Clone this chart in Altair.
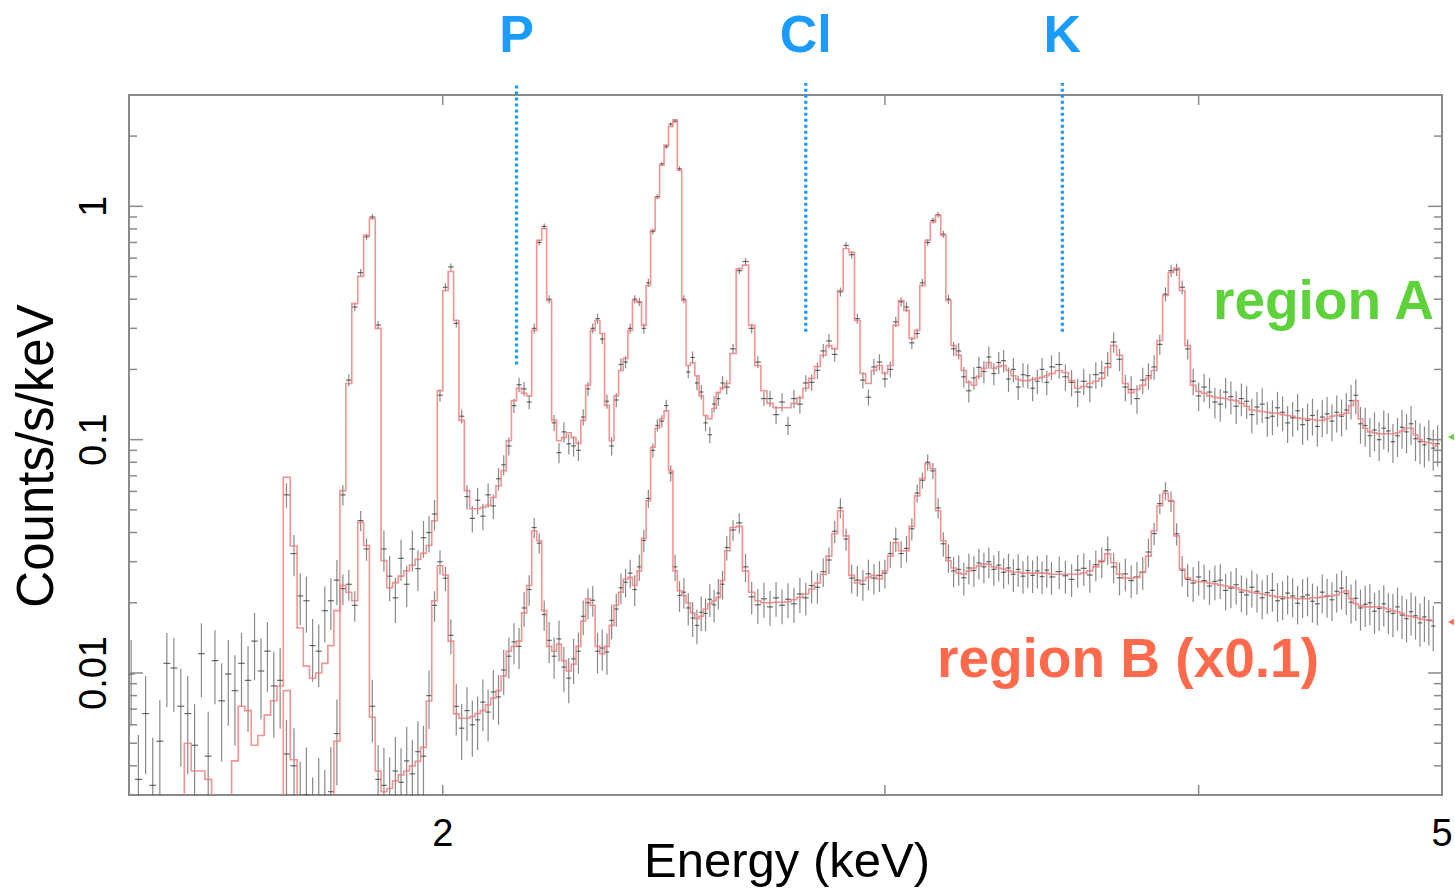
import altair as alt
import pandas as pd

# ---- spectral bins (keV, bin centres) ----
energy_kev = [
    1.503, 1.513, 1.523, 1.533, 1.543, 1.553, 1.563, 1.573, 1.583, 1.593,
    1.603, 1.613, 1.623, 1.633, 1.643, 1.653, 1.663, 1.673, 1.683, 1.693,
    1.703, 1.713, 1.723, 1.733,
    1.745, 1.755, 1.765, 1.775, 1.785, 1.795, 1.805, 1.815, 1.825, 1.835,
    1.845, 1.855, 1.865, 1.875, 1.885, 1.895, 1.905, 1.915, 1.925, 1.935,
    1.945, 1.955, 1.965, 1.975, 1.985, 1.995, 2.005, 2.015, 2.025, 2.035,
    2.045, 2.055, 2.065, 2.075, 2.085, 2.095, 2.105, 2.115, 2.125, 2.135,
    2.145, 2.155, 2.165, 2.175, 2.185, 2.195, 2.205, 2.215, 2.225, 2.235,
    2.245, 2.255, 2.265, 2.275, 2.285, 2.295, 2.305, 2.315, 2.325, 2.335,
    2.345, 2.355, 2.365, 2.375, 2.385, 2.395, 2.405, 2.415, 2.425, 2.435,
    2.445, 2.455, 2.465, 2.475, 2.485, 2.495, 2.505, 2.515, 2.525, 2.535,
    2.545, 2.555, 2.565, 2.575, 2.585, 2.595,
    2.610, 2.625, 2.640, 2.655, 2.670, 2.685, 2.700, 2.715, 2.730, 2.745,
    2.760, 2.775, 2.790, 2.805, 2.820, 2.835, 2.850, 2.865, 2.880, 2.895,
    2.910, 2.925, 2.940, 2.955, 2.970, 2.985, 3.000, 3.015, 3.030, 3.045,
    3.060, 3.075, 3.090, 3.105, 3.120, 3.135, 3.150, 3.165, 3.180, 3.195,
    3.210, 3.225, 3.240, 3.255, 3.270, 3.285, 3.300, 3.315, 3.330, 3.345,
    3.360, 3.375, 3.390, 3.405, 3.420, 3.435, 3.450, 3.465, 3.480, 3.495,
    3.52, 3.54, 3.56, 3.58, 3.60, 3.62, 3.64, 3.66, 3.68, 3.70,
    3.72, 3.74, 3.76, 3.78, 3.80, 3.82, 3.84, 3.86, 3.88, 3.90,
    3.92, 3.94, 3.96, 3.98, 4.00, 4.02, 4.04, 4.06, 4.08, 4.10,
    4.12, 4.14, 4.16, 4.18, 4.20, 4.22, 4.24, 4.26, 4.28, 4.30,
    4.32, 4.34, 4.36, 4.38, 4.40, 4.42, 4.44, 4.46, 4.48, 4.50,
    4.52, 4.54, 4.56, 4.58, 4.60, 4.62, 4.64, 4.66, 4.68, 4.70,
    4.72, 4.74, 4.76, 4.78, 4.80, 4.82, 4.84, 4.86, 4.88, 4.90,
    4.92, 4.94, 4.96, 4.98,
]

# ---- region A: folded model, observed rate, fractional 1-sigma error ----
a_model = [
    0.0022, 0.0023, 0.0024, 0.0025, 0.0025, 0.0026, 0.0027, 0.0029, 0.0050, 0.0038,
    0.0038, 0.0035, 0.0028, 0.0027, 0.0029, 0.0042, 0.0072, 0.0069, 0.0049, 0.0054,
    0.0066, 0.0076, 0.0088, 0.069,
    0.035, 0.0156, 0.0107, 0.0095, 0.0100, 0.0110, 0.0131, 0.0185, 0.0605, 0.174,
    0.383, 0.501, 0.751, 0.888, 0.30, 0.0303, 0.0232, 0.0244, 0.0260, 0.0274,
    0.0290, 0.0307, 0.0326, 0.0352, 0.0449, 0.162, 0.436, 0.526, 0.324, 0.121,
    0.0605, 0.0506, 0.0506, 0.0512, 0.0523, 0.0565, 0.0635, 0.0737, 0.099, 0.147,
    0.166, 0.158, 0.154, 0.294, 0.715, 0.804, 0.395, 0.121, 0.099, 0.102,
    0.107, 0.102, 0.0963, 0.121, 0.171, 0.294, 0.324, 0.285, 0.140, 0.099,
    0.154, 0.198, 0.223, 0.294, 0.395, 0.387, 0.309, 0.458, 0.789, 1.09,
    1.50, 1.83, 2.20, 2.35, 1.43, 0.395, 0.208, 0.214, 0.188, 0.154,
    0.127, 0.123, 0.136, 0.159, 0.167, 0.174,
    0.234, 0.54, 0.56, 0.309, 0.208, 0.162, 0.143, 0.137, 0.137, 0.137,
    0.143, 0.151, 0.166, 0.183, 0.206, 0.230, 0.253, 0.245, 0.436, 0.660,
    0.635, 0.324, 0.192, 0.174, 0.198, 0.208, 0.192, 0.208, 0.309, 0.395,
    0.358, 0.271, 0.294, 0.458, 0.715, 0.854, 0.915, 0.751, 0.395, 0.253,
    0.230, 0.198, 0.176, 0.171, 0.187, 0.202, 0.214, 0.202, 0.206, 0.208,
    0.198, 0.188, 0.181, 0.179, 0.179, 0.181, 0.183, 0.185, 0.188, 0.192,
    0.198, 0.194, 0.179, 0.166, 0.169, 0.174, 0.178, 0.183, 0.204, 0.253,
    0.230, 0.174, 0.159, 0.164, 0.171, 0.183, 0.198, 0.266, 0.415, 0.521,
    0.542, 0.436, 0.253, 0.171, 0.161, 0.158, 0.154, 0.152, 0.151, 0.150,
    0.148, 0.147, 0.143, 0.139, 0.134, 0.133, 0.132, 0.131, 0.130, 0.130,
    0.128, 0.127, 0.126, 0.124, 0.123, 0.123, 0.122, 0.121, 0.121, 0.123,
    0.126, 0.127, 0.128, 0.130, 0.140, 0.147, 0.123, 0.112, 0.108, 0.107,
    0.106, 0.106, 0.106, 0.106, 0.107, 0.109, 0.112, 0.112, 0.105, 0.100,
    0.098, 0.097, 0.0963, 0.0937,
]
a_rate = [
    0.0099, 0.0035, 0.0067, 0.0033, 0.0051, 0.0110, 0.0105, 0.0072, 0.0067, 0.0049,
    0.0121, 0.0044, 0.0113, 0.0076, 0.0099, 0.0084, 0.0110, 0.0093, 0.0137, 0.0102,
    0.0124, 0.0088, 0.0093, 0.058,
    0.0325, 0.0214, 0.0204, 0.0131, 0.0124, 0.0185, 0.0204, 0.025, 0.058, 0.180,
    0.37, 0.52, 0.74, 0.90, 0.31, 0.034, 0.026, 0.021, 0.031, 0.024,
    0.034, 0.028, 0.038, 0.040, 0.048, 0.155, 0.45, 0.55, 0.315, 0.126,
    0.057, 0.046, 0.055, 0.047, 0.058, 0.052, 0.068, 0.078, 0.094, 0.140,
    0.172, 0.165, 0.145, 0.30, 0.70, 0.82, 0.40, 0.118, 0.088, 0.108,
    0.096, 0.094, 0.090, 0.125, 0.165, 0.30, 0.33, 0.27, 0.146, 0.094,
    0.148, 0.21, 0.215, 0.30, 0.40, 0.39, 0.30, 0.47, 0.78, 1.10,
    1.52, 1.80, 2.25, 2.32, 1.45, 0.40, 0.195, 0.225, 0.175, 0.160,
    0.118, 0.105, 0.142, 0.150, 0.175, 0.168,
    0.245, 0.53, 0.58, 0.30, 0.215, 0.150, 0.150, 0.128, 0.145, 0.115,
    0.150, 0.142, 0.175, 0.176, 0.198, 0.240, 0.265, 0.232, 0.43, 0.68,
    0.62, 0.33, 0.180, 0.152, 0.205, 0.215, 0.182, 0.200, 0.32, 0.39,
    0.37, 0.26, 0.285, 0.47, 0.70, 0.87, 0.92, 0.76, 0.40, 0.245,
    0.240, 0.186, 0.162, 0.184, 0.204, 0.196, 0.226, 0.192, 0.214, 0.218,
    0.182, 0.200, 0.168, 0.190, 0.188, 0.166, 0.178, 0.200, 0.176, 0.205,
    0.210, 0.186, 0.176, 0.160, 0.178, 0.168, 0.190, 0.193, 0.212, 0.262,
    0.221, 0.168, 0.164, 0.150, 0.180, 0.188, 0.205, 0.256, 0.42, 0.53,
    0.535, 0.45, 0.245, 0.178, 0.154, 0.168, 0.160, 0.145, 0.142, 0.160,
    0.153, 0.139, 0.150, 0.146, 0.128, 0.138, 0.142, 0.124, 0.126, 0.137,
    0.131, 0.118, 0.124, 0.133, 0.116, 0.121, 0.127, 0.114, 0.125, 0.129,
    0.120, 0.131, 0.126, 0.134, 0.147, 0.155, 0.117, 0.115, 0.104, 0.110,
    0.100, 0.112, 0.109, 0.098, 0.104, 0.113, 0.108, 0.117, 0.101, 0.098,
    0.095, 0.101, 0.092, 0.096,
]
a_frac_err = [
    0.40, 0.55, 0.45, 0.60, 0.50, 0.35, 0.35, 0.45, 0.45, 0.50,
    0.35, 0.55, 0.35, 0.45, 0.40, 0.42, 0.35, 0.40, 0.32, 0.38,
    0.33, 0.40, 0.38, 0.12,
    0.20, 0.25, 0.27, 0.30, 0.30, 0.27, 0.25, 0.22, 0.10, 0.06,
    0.04, 0.035, 0.03, 0.03, 0.04, 0.20, 0.22, 0.22, 0.20, 0.20,
    0.20, 0.20, 0.18, 0.18, 0.15, 0.06, 0.04, 0.035, 0.04, 0.07,
    0.12, 0.13, 0.13, 0.13, 0.12, 0.12, 0.11, 0.10, 0.09, 0.07,
    0.07, 0.07, 0.07, 0.05, 0.03, 0.03, 0.04, 0.08, 0.10, 0.10,
    0.10, 0.10, 0.10, 0.08, 0.07, 0.05, 0.05, 0.05, 0.07, 0.09,
    0.07, 0.06, 0.06, 0.05, 0.04, 0.04, 0.05, 0.04, 0.03, 0.025,
    0.02, 0.02, 0.02, 0.02, 0.025, 0.04, 0.06, 0.06, 0.07, 0.07,
    0.08, 0.08, 0.08, 0.07, 0.07, 0.07,
    0.05, 0.035, 0.035, 0.05, 0.06, 0.07, 0.08, 0.09, 0.09, 0.09,
    0.09, 0.09, 0.08, 0.08, 0.08, 0.07, 0.07, 0.07, 0.045, 0.035,
    0.035, 0.05, 0.08, 0.08, 0.08, 0.08, 0.08, 0.08, 0.05, 0.045,
    0.05, 0.06, 0.05, 0.04, 0.035, 0.03, 0.03, 0.035, 0.045, 0.07,
    0.08, 0.10, 0.11, 0.11, 0.11, 0.11, 0.11, 0.11, 0.11, 0.11,
    0.12, 0.12, 0.12, 0.12, 0.12, 0.12, 0.12, 0.12, 0.12, 0.12,
    0.13, 0.13, 0.13, 0.14, 0.13, 0.14, 0.13, 0.13, 0.12, 0.10,
    0.11, 0.13, 0.14, 0.14, 0.13, 0.13, 0.12, 0.10, 0.07, 0.06,
    0.06, 0.07, 0.10, 0.13, 0.14, 0.14, 0.15, 0.15, 0.16, 0.15,
    0.16, 0.16, 0.16, 0.16, 0.17, 0.16, 0.17, 0.17, 0.17, 0.17,
    0.17, 0.18, 0.17, 0.18, 0.18, 0.18, 0.18, 0.18, 0.18, 0.18,
    0.18, 0.18, 0.18, 0.18, 0.17, 0.17, 0.18, 0.19, 0.19, 0.19,
    0.19, 0.19, 0.19, 0.19, 0.19, 0.19, 0.19, 0.19, 0.20, 0.20,
    0.20, 0.20, 0.20, 0.20,
]

# ---- region B (already scaled by 0.1), starting at the 1.723 keV bin ----
b_first = 22
b_model = [
    0.0012, 0.0084,
    0.00425, 0.0029, 0.0025, 0.0023, 0.0022, 0.0023, 0.0026, 0.0051, 0.0237, 0.0222,
    0.0204, 0.0442, 0.0352, 0.00646, 0.0038, 0.0031, 0.0032, 0.00345, 0.00366, 0.0038,
    0.0040, 0.00418, 0.0048, 0.00759, 0.0204, 0.0288, 0.0263, 0.0137, 0.00668, 0.0064,
    0.0064, 0.0065, 0.0067, 0.0069, 0.0073, 0.0078, 0.0084, 0.0097, 0.0124, 0.0130,
    0.0137, 0.0181, 0.0237, 0.0407, 0.0369, 0.0185, 0.0130, 0.0124, 0.0133, 0.0113,
    0.0102, 0.0109, 0.0130, 0.0167, 0.0208, 0.0195, 0.0130, 0.0121, 0.0130, 0.0160,
    0.0195, 0.0222, 0.0253, 0.0257, 0.0237, 0.0274, 0.0378, 0.0548, 0.0928, 0.112,
    0.123, 0.133, 0.0737, 0.0274, 0.0225, 0.0215, 0.0200, 0.0181, 0.0171, 0.0175,
    0.0188, 0.0198, 0.0204, 0.0211, 0.0249, 0.0334,
    0.0420, 0.0425, 0.0274, 0.0222, 0.0204, 0.0200, 0.0200, 0.0201, 0.0201, 0.0202,
    0.0206, 0.0211, 0.0218, 0.0229, 0.0243, 0.0265, 0.0317, 0.0395, 0.0496, 0.0387,
    0.0262, 0.0243, 0.0249, 0.0257, 0.0262, 0.0253, 0.0274, 0.0317, 0.0362, 0.0334,
    0.0334, 0.0425, 0.0574, 0.0681, 0.0789, 0.0750, 0.0496, 0.0369, 0.0303, 0.0282,
    0.0268, 0.0265, 0.0274, 0.0282, 0.0288, 0.0294, 0.0292, 0.0285, 0.0282, 0.0279,
    0.0274, 0.0271, 0.0271, 0.0268, 0.0268, 0.0268, 0.0268, 0.0268, 0.0268, 0.0265,
    0.0265, 0.0265, 0.0265, 0.0265, 0.0268, 0.0274, 0.0285, 0.0303, 0.0324, 0.0297,
    0.0265, 0.0255, 0.0255, 0.0257, 0.0271, 0.0317, 0.0407, 0.0521, 0.0589, 0.0548,
    0.0387, 0.0279, 0.0255, 0.0249, 0.0246, 0.0246, 0.0243, 0.0241, 0.0238, 0.0236,
    0.0234, 0.0232, 0.0227, 0.0225, 0.0222, 0.0220, 0.0218, 0.0216, 0.0214, 0.0212,
    0.0212, 0.0210, 0.0210, 0.0208, 0.0208, 0.0208, 0.0210, 0.0210, 0.0212, 0.0214,
    0.0214, 0.0216, 0.0222, 0.0225, 0.0208, 0.0198, 0.0194, 0.0192, 0.0192, 0.0192,
    0.0192, 0.0190, 0.0188, 0.0185, 0.0183, 0.0180, 0.0176, 0.0175, 0.0173, 0.0171,
    0.0169, 0.0169, 0.0167,
]
b_rate = [
    0.0015, 0.0045,
    0.0040, 0.0026, 0.0030, 0.0021, 0.0027, 0.0024, 0.0031, 0.0055, 0.0230, 0.0240,
    0.0195, 0.0450, 0.0340, 0.0072, 0.0035, 0.0033, 0.0029, 0.0038, 0.0034, 0.0042,
    0.0037, 0.0046, 0.0044, 0.0080, 0.0195, 0.0300, 0.0255, 0.0145, 0.0072, 0.0058,
    0.0069, 0.0060, 0.0063, 0.0075, 0.0068, 0.0083, 0.0079, 0.0103, 0.0118, 0.0136,
    0.0130, 0.0190, 0.0228, 0.0420, 0.0360, 0.0178, 0.0138, 0.0118, 0.0140, 0.0106,
    0.0095, 0.0115, 0.0124, 0.0175, 0.0200, 0.0205, 0.0124, 0.0128, 0.0123, 0.0168,
    0.0188, 0.0232, 0.0245, 0.0268, 0.0228, 0.0285, 0.0370, 0.0560, 0.090, 0.115,
    0.120, 0.140, 0.072, 0.0285, 0.0215, 0.0222, 0.0190, 0.0172, 0.0160, 0.0182,
    0.0180, 0.0207, 0.0196, 0.0220, 0.0240, 0.0345,
    0.0410, 0.0440, 0.0285, 0.0212, 0.0196, 0.0208, 0.0192, 0.0210, 0.0195, 0.0207,
    0.0198, 0.0218, 0.0210, 0.0237, 0.0233, 0.0272, 0.0305, 0.0405, 0.0510, 0.0375,
    0.0255, 0.0250, 0.0240, 0.0266, 0.0255, 0.0262, 0.0268, 0.0325, 0.0375, 0.0325,
    0.0342, 0.0415, 0.0590, 0.0670, 0.0800, 0.0735, 0.0510, 0.0358, 0.0312, 0.0274,
    0.0278, 0.0256, 0.0282, 0.0275, 0.0296, 0.0285, 0.0300, 0.0278, 0.0290, 0.0270,
    0.0282, 0.0265, 0.0278, 0.0260, 0.0275, 0.0262, 0.0274, 0.0259, 0.0276, 0.0258,
    0.0272, 0.0261, 0.0252, 0.0276, 0.0281, 0.0263, 0.0291, 0.0300, 0.0337, 0.0285,
    0.0256, 0.0266, 0.0249, 0.0258, 0.0270, 0.0330, 0.0396, 0.0532, 0.0603, 0.0545,
    0.0395, 0.0276, 0.0252, 0.0243, 0.0258, 0.0249, 0.0236, 0.0247, 0.0250, 0.0226,
    0.0231, 0.0239, 0.0222, 0.0216, 0.0233, 0.0224, 0.0210, 0.0221, 0.0226, 0.0204,
    0.0208, 0.0220, 0.0214, 0.0199, 0.0212, 0.0216, 0.0203, 0.0198, 0.0222, 0.0213,
    0.0206, 0.0224, 0.0231, 0.0219, 0.0201, 0.0209, 0.0190, 0.0197, 0.0200, 0.0184,
    0.0189, 0.0198, 0.0183, 0.0180, 0.0192, 0.0177, 0.0171, 0.0183, 0.0176, 0.0164,
    0.0174, 0.0168, 0.0159,
]
b_frac_err = [
    0.50, 0.40,
    0.45, 0.60, 0.60, 0.70, 0.60, 0.60, 0.55, 0.40, 0.15, 0.15,
    0.15, 0.10, 0.11, 0.30, 0.40, 0.45, 0.50, 0.40, 0.40, 0.40,
    0.40, 0.35, 0.35, 0.28, 0.15, 0.12, 0.12, 0.17, 0.25, 0.27,
    0.26, 0.27, 0.26, 0.25, 0.25, 0.24, 0.24, 0.22, 0.20, 0.20,
    0.20, 0.17, 0.15, 0.10, 0.10, 0.15, 0.20, 0.20, 0.20, 0.22,
    0.22, 0.22, 0.20, 0.17, 0.15, 0.15, 0.20, 0.20, 0.20, 0.17,
    0.16, 0.15, 0.14, 0.14, 0.15, 0.13, 0.11, 0.09, 0.07, 0.06,
    0.06, 0.06, 0.08, 0.13, 0.15, 0.15, 0.16, 0.17, 0.17, 0.17,
    0.16, 0.16, 0.16, 0.15, 0.14, 0.12,
    0.10, 0.10, 0.14, 0.16, 0.17, 0.17, 0.17, 0.17, 0.17, 0.17,
    0.17, 0.17, 0.16, 0.16, 0.15, 0.14, 0.13, 0.11, 0.10, 0.11,
    0.14, 0.15, 0.15, 0.15, 0.15, 0.15, 0.14, 0.13, 0.12, 0.13,
    0.13, 0.11, 0.09, 0.08, 0.08, 0.08, 0.10, 0.12, 0.14, 0.15,
    0.15, 0.16, 0.15, 0.15, 0.15, 0.15, 0.15, 0.15, 0.15, 0.15,
    0.15, 0.16, 0.16, 0.16, 0.16, 0.16, 0.16, 0.16, 0.16, 0.16,
    0.16, 0.16, 0.16, 0.16, 0.16, 0.16, 0.15, 0.15, 0.14, 0.15,
    0.16, 0.16, 0.16, 0.16, 0.16, 0.14, 0.11, 0.10, 0.09, 0.10,
    0.11, 0.15, 0.16, 0.17, 0.17, 0.17, 0.17, 0.17, 0.17, 0.18,
    0.18, 0.18, 0.18, 0.18, 0.18, 0.19, 0.19, 0.19, 0.19, 0.19,
    0.19, 0.19, 0.19, 0.19, 0.19, 0.19, 0.19, 0.19, 0.19, 0.19,
    0.19, 0.19, 0.19, 0.19, 0.19, 0.20, 0.20, 0.20, 0.20, 0.20,
    0.20, 0.20, 0.20, 0.21, 0.21, 0.21, 0.21, 0.21, 0.21, 0.21,
    0.22, 0.22, 0.22,
]

# ---- line identifications ----
line_names = ["P", "Cl", "K"]
line_kev = [2.14, 2.79, 3.53]
line_floor = [0.21, 0.29, 0.29]

# ---- axis ticks ----
y_major = [0.01, 0.1, 1]
y_major_text = ["0.01", "0.1", "1"]
y_minor = [0.004, 0.005, 0.006, 0.007, 0.008, 0.009,
           0.02, 0.03, 0.04, 0.05, 0.06, 0.07, 0.08, 0.09,
           0.2, 0.3, 0.4, 0.5, 0.6, 0.7, 0.8, 0.9, 2, 3]
x_tick_vals = [2, 3, 4]
x_label_vals = [2, 5]

W, H = 1313, 700
FONT = "Liberation Sans"
BLUE = "#1a9cff"
GREEN = "#5ed23a"
ORANGE = "#ff6a4d"
RED_MODEL = "#f07878"

xs = alt.Scale(type="log", domain=[1.5, 5.0], nice=False)
ys = alt.Scale(type="log", domain=[0.003, 3.0], nice=False)


def edges(e):
    lo, hi = [], []
    n = len(e)
    for i, c in enumerate(e):
        left = (e[i - 1] + c) / 2 if i > 0 else c - (e[1] - e[0]) / 2
        right = (c + e[i + 1]) / 2 if i < n - 1 else c + (c - e[i - 1]) / 2
        lo.append(left)
        hi.append(right)
    return lo, hi


def spectrum_frames(name, e, rate, ferr, model):
    lo, hi = edges(e)
    d = pd.DataFrame({
        "spectrum": name, "e": e, "e_lo": lo, "e_hi": hi, "rate": rate,
        "rate_lo": [r * (1 - f) for r, f in zip(rate, ferr)],
        "rate_hi": [r * (1 + f) for r, f in zip(rate, ferr)],
    })
    m = pd.DataFrame({"spectrum": name, "e": e, "model": model})
    return d, m


n_a = min(len(energy_kev), len(a_model), len(a_rate), len(a_frac_err))
e_b = energy_kev[b_first:]
n_b = min(len(e_b), len(b_model), len(b_rate), len(b_frac_err))
print("A bins", len(energy_kev), len(a_model), len(a_rate), len(a_frac_err))
print("B bins", len(e_b), len(b_model), len(b_rate), len(b_frac_err))

da, ma = spectrum_frames("A", energy_kev[:n_a], a_rate[:n_a], a_frac_err[:n_a], a_model[:n_a])
db, mb = spectrum_frames("B", e_b[:n_b], b_rate[:n_b], b_frac_err[:n_b], b_model[:n_b])
data_df = pd.concat([da, db], ignore_index=True)
model_df = pd.concat([ma, mb], ignore_index=True)

GRAY = "#3a3a3a"

err_v = alt.Chart(data_df).mark_rule(clip=True, color=GRAY, strokeWidth=1.2, opacity=0.6).encode(
    x=alt.X("e:Q", scale=xs, axis=None),
    y=alt.Y("rate_lo:Q", scale=ys, axis=None),
    y2="rate_hi:Q",
)
err_h = alt.Chart(data_df).mark_rule(clip=True, color=GRAY, strokeWidth=1.2, opacity=0.75).encode(
    x=alt.X("e_lo:Q", scale=xs, axis=None),
    x2="e_hi:Q",
    y=alt.Y("rate:Q", scale=ys, axis=None),
)
model_line = alt.Chart(model_df).mark_line(
    clip=True, interpolate="step", color=RED_MODEL, strokeWidth=1.6, opacity=0.8
).encode(
    x=alt.X("e:Q", scale=xs, axis=None),
    y=alt.Y("model:Q", scale=ys, axis=None),
    detail="spectrum:N",
)

# frame ticks (drawn inside the frame on all four sides)
ymaj_df = pd.DataFrame({"v": y_major, "t": y_major_text})
ymin_df = pd.DataFrame({"v": y_minor})
xt_df = pd.DataFrame({"v": x_tick_vals})
TICK = "#8a8a8a"


def ytick(df, x0, x1):
    return alt.Chart(df).mark_rule(color=TICK, strokeWidth=1.5).encode(
        y=alt.Y("v:Q", scale=ys, axis=None), x=alt.value(x0), x2=alt.value(x1))


def xtick(df, y0, y1):
    return alt.Chart(df).mark_rule(color=TICK, strokeWidth=1.5).encode(
        x=alt.X("v:Q", scale=xs, axis=None), y=alt.value(y0), y2=alt.value(y1))


ticks = [
    ytick(ymaj_df, 0, 14), ytick(ymaj_df, W - 14, W),
    ytick(ymin_df, 0, 8), ytick(ymin_df, W - 8, W),
    xtick(xt_df, H - 10, H), xtick(xt_df, 0, 10),
]

y_labels = alt.Chart(ymaj_df).mark_text(
    font=FONT, fontSize=38, angle=270, align="center", baseline="middle", color="black"
).encode(y=alt.Y("v:Q", scale=ys, axis=None), x=alt.value(-34), text="t:N")

x_labels = alt.Chart(pd.DataFrame({"v": x_label_vals, "t": [str(v) for v in x_label_vals]})).mark_text(
    font=FONT, fontSize=38, align="center", baseline="middle", color="black"
).encode(x=alt.X("v:Q", scale=xs, axis=None), y=alt.value(740), text="t:N")

y_title = alt.Chart(pd.DataFrame({"t": ["Counts/s/keV"]})).mark_text(
    font=FONT, fontSize=51, angle=270, align="center", baseline="middle", color="black"
).encode(x=alt.value(-91), y=alt.value(361), text="t:N")

x_title = alt.Chart(pd.DataFrame({"t": ["Energy (keV)"]})).mark_text(
    font=FONT, fontSize=49, align="center", baseline="middle", color="black"
).encode(x=alt.value(658), y=alt.value(767), text="t:N")

lines_df = pd.DataFrame({"name": line_names, "e": line_kev, "floor": line_floor})
line_marks = alt.Chart(lines_df).mark_rule(
    color=BLUE, strokeWidth=3.2, strokeDash=[3, 3], clip=False
).encode(
    x=alt.X("e:Q", scale=xs, axis=None),
    y=alt.Y("floor:Q", scale=ys, axis=None),
    y2=alt.value(-12),
)
line_text = alt.Chart(lines_df).mark_text(
    font=FONT, fontSize=52, fontWeight="bold", color=BLUE, align="center", baseline="alphabetic"
).encode(x=alt.X("e:Q", scale=xs, axis=None), y=alt.value(-43), text="name:N")

label_a = alt.Chart(pd.DataFrame({"t": ["region A"]})).mark_text(
    font=FONT, fontSize=55, fontWeight="bold", color=GREEN, align="left", baseline="alphabetic"
).encode(x=alt.value(1084), y=alt.value(224), text="t:N")
label_b = alt.Chart(pd.DataFrame({"t": ["region B (x0.1)"]})).mark_text(
    font=FONT, fontSize=55, fontWeight="bold", color=ORANGE, align="left", baseline="alphabetic"
).encode(x=alt.value(808), y=alt.value(582), text="t:N")

arrows = alt.Chart(pd.DataFrame({"c": [GREEN, ORANGE], "yy": [342, 527]})).mark_point(
    shape="triangle-left", filled=True, size=45, opacity=1
).encode(
    x=alt.value(W + 9),
    y=alt.Y("yy:Q", scale=None, axis=None),
    color=alt.Color("c:N", scale=None),
)

chart = alt.layer(
    err_v, err_h, model_line, *ticks, y_labels, x_labels, y_title, x_title,
    line_marks, line_text, label_a, label_b, arrows,
).properties(
    width=W, height=H,
    autosize=alt.AutoSizeParams(type="none"),
    padding={"left": 129, "top": 95, "right": 13, "bottom": 97},
    background="white",
).configure_view(stroke="#8a8a8a", strokeWidth=2)

chart.save("out.html", embed_options={"renderer": "svg", "actions": False})
